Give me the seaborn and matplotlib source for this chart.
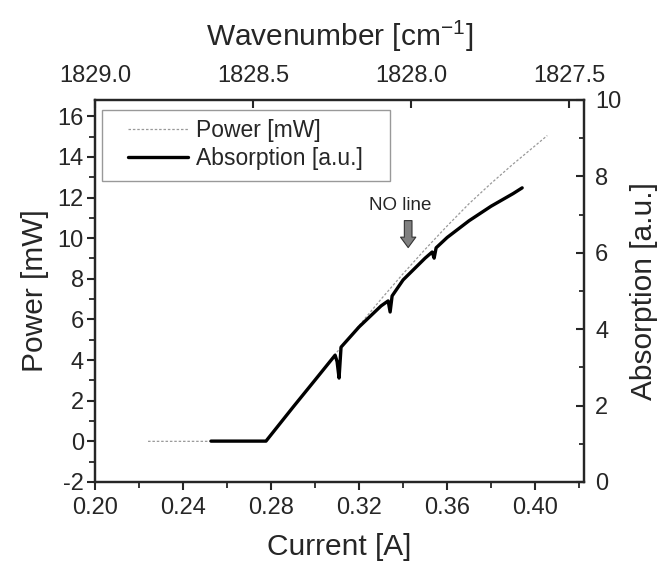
import numpy as np
import pandas as pd
import matplotlib
matplotlib.use('Agg')
import matplotlib.pyplot as plt
from matplotlib.patches import Rectangle
from matplotlib.ticker import MultipleLocator, FormatStrFormatter, NullLocator
import seaborn as sns

# Data
power_current = [0.2241, 0.2500, 0.2777, 0.29, 0.30, 0.31, 0.32, 0.33, 0.34,
                 0.35, 0.36, 0.37, 0.38, 0.39, 0.40, 0.4055]
power_mw = [0.0, 0.0, 0.0, 1.70, 3.03, 4.40, 5.70, 7.00, 8.25,
            9.45, 10.60, 11.70, 12.70, 13.65, 14.55, 15.05]

abs_current = [0.2527, 0.2777, 0.29, 0.30, 0.3091, 0.3100, 0.3109, 0.3118,
               0.32, 0.33, 0.3332, 0.3341, 0.3350, 0.34, 0.35, 0.3532,
               0.3541, 0.3550, 0.36, 0.37, 0.38, 0.39, 0.3941]
absorption = [1.07, 1.07, 1.96, 2.67, 3.32, 3.15, 2.72, 3.53,
              4.06, 4.61, 4.74, 4.45, 4.87, 5.29, 5.86, 6.02,
              5.86, 6.13, 6.40, 6.84, 7.22, 7.55, 7.70]

# wavenumber scale on the top axis (linear in current)
current_lim = (0.20, 0.4222)
wn_lim = (1829.0, 1827.4535)
wn_ticks = [1829.0, 1828.5, 1828.0, 1827.5]

sns.set_style('ticks')
plt.rcParams['font.family'] = ['Liberation Sans', 'DejaVu Sans']
plt.rcParams['mathtext.fontset'] = 'custom'
plt.rcParams['mathtext.rm'] = 'Liberation Sans'
plt.rcParams['axes.unicode_minus'] = False
plt.rcParams['axes.linewidth'] = 1.6

power_df = pd.DataFrame({'current': power_current, 'power': power_mw})
abs_df = pd.DataFrame({'current': abs_current, 'absorption': absorption})

rect = [0.1435, 0.1439, 0.7387, 0.6785]
fig = plt.figure(figsize=(6.62, 5.63), dpi=100)
ax = fig.add_axes(rect)
ax2 = ax.twinx()

sns.lineplot(data=power_df, x='current', y='power', ax=ax, color='#999999',
             linestyle=(0, (2, 1.5)), linewidth=0.9, label='Power [mW]', legend=False)
sns.lineplot(data=abs_df, x='current', y='absorption', ax=ax2, color='black',
             linewidth=2.4, label='Absorption [a.u.]', legend=False)

ax.set_xlim(*current_lim)
ax.set_ylim(-2, 16.8)
ax2.set_ylim(0, 10)

ax.xaxis.set_major_locator(MultipleLocator(0.04))
ax.xaxis.set_minor_locator(MultipleLocator(0.02))
ax.yaxis.set_major_locator(MultipleLocator(2))
ax.yaxis.set_minor_locator(MultipleLocator(1))
ax2.yaxis.set_major_locator(MultipleLocator(2))
ax2.yaxis.set_minor_locator(MultipleLocator(1))
ax.xaxis.set_major_formatter(FormatStrFormatter('%.2f'))
ax.yaxis.set_major_formatter(FormatStrFormatter('%d'))

ax.tick_params(axis='x', which='major', direction='out', length=6, width=1.5,
               labelsize=17, pad=5)
ax.tick_params(axis='y', which='major', direction='out', length=6, width=1.5,
               labelsize=17, pad=2)
ax.tick_params(axis='both', which='minor', direction='out', length=4, width=1.3)
ax2.tick_params(axis='y', which='major', direction='in', length=6, width=1.5,
                labelsize=17, pad=8)
ax2.tick_params(axis='y', which='minor', direction='in', length=3.5, width=1.3)

ax.set_xlabel('Current [A]', fontsize=21.5, labelpad=10)
ax.set_ylabel('Power [mW]', fontsize=21.5, labelpad=6)
ax2.set_ylabel('Absorption [a.u.]', fontsize=21.5, labelpad=6)

for a in (ax, ax2):
    for s in a.spines.values():
        s.set_linewidth(1.6)

# wavenumber axis: a flat axes lying on the top spine, its downward ticks
# point into the plot, its labels sit above
wn_ax = fig.add_axes([rect[0], rect[1] + rect[3], rect[2], 1e-4])
wn_ax.set_xlim(*wn_lim)
wn_ax.patch.set_visible(False)
for s in wn_ax.spines.values():
    s.set_visible(False)
wn_ax.yaxis.set_visible(False)
wn_ax.set_xticks(wn_ticks)
wn_ax.set_xticklabels([f'{w:.1f}' for w in wn_ticks])
wn_ax.xaxis.set_minor_locator(NullLocator())
wn_ax.tick_params(axis='x', which='major', bottom=True, top=False,
                  labelbottom=False, labeltop=True, direction='out',
                  length=6, width=1.5, labelsize=17, pad=3)
wn_ax.xaxis.set_label_position('top')
wn_ax.set_xlabel(r'Wavenumber [cm$^{\mathregular{-1}}$]', fontsize=21.5, labelpad=14)

# annotation for the NO absorption line
ax.annotate('', xy=(0.3423, 9.40), xytext=(0.3423, 11.0),
            arrowprops=dict(arrowstyle='simple,head_width=1.1,head_length=0.75,tail_width=0.55',
                            fc='#808080', ec='#333333', lw=0.8))
ax.text(0.3386, 11.6, 'NO line', fontsize=13.5, ha='center', va='center')

# legend: frame drawn separately so that it keeps the wide side margins
fig.patches.append(Rectangle((102 / 662, 1 - 181 / 563), 288 / 662, 71 / 563,
                             transform=fig.transFigure, fill=True, fc='white',
                             ec='#999999', lw=1.0, zorder=5))
h1, l1 = ax.get_legend_handles_labels()
h2, l2 = ax2.get_legend_handles_labels()
leg = fig.legend(h1 + h2, l1 + l2, loc='upper left',
                 bbox_to_anchor=(128 / 662, 1 - 119 / 563), fontsize=16.5,
                 frameon=False, handlelength=2.6, borderpad=0, borderaxespad=0,
                 labelspacing=0.2, handletextpad=0.35)
leg.set_zorder(6)

fig.savefig('out.png', dpi=100)
